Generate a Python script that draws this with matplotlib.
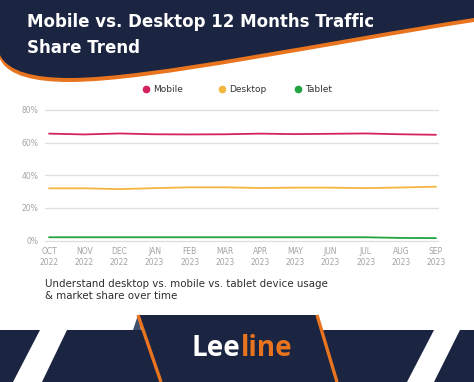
import matplotlib
matplotlib.use("Agg")
import matplotlib.pyplot as plt
from matplotlib.path import Path
from matplotlib.patches import PathPatch, Polygon

# data
months = ["OCT\n2022", "NOV\n2022", "DEC\n2022", "JAN\n2023", "FEB\n2023", "MAR\n2023",
          "APR\n2023", "MAY\n2023", "JUN\n2023", "JUL\n2023", "AUG\n2023", "SEP\n2023"]
mobile = [65.5, 65.0, 65.6, 65.1, 65.0, 65.1, 65.5, 65.2, 65.4, 65.6, 65.1, 64.8]
desktop = [32.0, 32.0, 31.5, 32.1, 32.6, 32.6, 32.2, 32.4, 32.4, 32.1, 32.5, 33.0]
tablet = [2.0, 2.0, 2.0, 2.0, 2.0, 2.0, 2.0, 2.0, 2.0, 2.0, 1.6, 1.5]
series_names = ["Mobile", "Desktop", "Tablet"]
series_colors = ["#d4225f", "#f3b63f", "#22a33f"]
yticks = [0, 20, 40, 60, 80]

title_lines = ["Mobile vs. Desktop 12 Months Traffic", "Share Trend"]
subtitle = "Understand desktop vs. mobile vs. tablet device usage\n& market share over time"

NAVY = "#1b2440"
ORANGE = "#e8741f"
W, H = 474, 382

fig = plt.figure(figsize=(W / 100, H / 100), dpi=100)
fig.patch.set_facecolor("white")

# background decoration axes in pixel coordinates (y grows downward)
bg = fig.add_axes([0, 0, 1, 1], zorder=0)
bg.set_xlim(0, W)
bg.set_ylim(H, 0)
bg.axis("off")


def header_path(dy):
    verts = [(0, 0), (0, 55 + dy),
             (8, 72 + dy), (35, 78 + dy), (70, 78 + dy),
             (150, 78 + dy), (330, 40 + dy), (W, 18 + dy),
             (W, 0), (0, 0)]
    codes = [Path.MOVETO, Path.LINETO,
             Path.CURVE4, Path.CURVE4, Path.CURVE4,
             Path.CURVE4, Path.CURVE4, Path.CURVE4,
             Path.LINETO, Path.CLOSEPOLY]
    return Path(verts, codes)


bg.add_patch(PathPatch(header_path(4), facecolor=ORANGE, edgecolor="none"))
bg.add_patch(PathPatch(header_path(0), facecolor=NAVY, edgecolor="none"))

for i, line in enumerate(title_lines):
    bg.text(27, 22 + i * 26, line, color="white", fontsize=12, fontweight="bold",
            family="DejaVu Sans", va="center", ha="left")

# footer band
footer_polys = [
    [(0, 330), (40, 330), (13, H), (0, H)],
    [(67, 330), (434, 330), (407, H), (42, H)],
    [(460, 330), (W, 330), (W, H), (434, H)],
    [(138, 315), (317, 315), (337, H), (161, H)],
]
for pts in footer_polys:
    bg.add_patch(Polygon(pts, closed=True, facecolor=NAVY, edgecolor="none"))
bg.add_patch(Polygon([(133, 330), (138, 315), (141, 330)], closed=True,
                     facecolor="#42506f", edgecolor="none"))
bg.plot([138, 161], [315, H], color=ORANGE, lw=2.4, solid_capstyle="butt")
bg.plot([317, 337], [315, H], color=ORANGE, lw=2.4, solid_capstyle="butt")

t1 = bg.text(192, 348, "Lee", color="white", fontsize=20, fontweight="bold",
             family="Open Sans", va="center", ha="left")
fig.canvas.draw()
bb = t1.get_window_extent()
x_end = bb.x1 / fig.dpi * 100
bg.text(x_end, 348, "line", color=ORANGE, fontsize=20, fontweight="bold",
        family="Open Sans", va="center", ha="left")

bg.text(45, 290, subtitle, color="#2e2e2e", fontsize=7.4, family="DejaVu Sans",
        va="center", ha="left", linespacing=1.2)

# legend: marker + label for each series
legend_x = [146, 222, 298]
for lx, name, col in zip(legend_x, series_names, series_colors):
    bg.plot(lx, 89, marker="o", color=col, markersize=4.5, linestyle="none")
    bg.text(lx + 7, 89, name, color="#333333", fontsize=6.5, va="center", ha="left")

# chart axes
ax = fig.add_axes([45 / W, 1 - 243.8 / H, 394 / W, (243.8 - 106.7) / H], zorder=1)
ax.patch.set_alpha(0)
x = list(range(len(months)))
for vals, name, col in zip([mobile, desktop, tablet], series_names, series_colors):
    ax.plot(x, vals, color=col, lw=1.3, label=name, solid_capstyle="round")

ax.set_xlim(-0.114, 11.085)
ax.set_ylim(-2, 82)
ax.set_yticks(yticks)
ax.set_yticklabels([f"{v}%" for v in yticks])
ax.set_xticks(x)
ax.set_xticklabels(months, linespacing=1.2)
ax.tick_params(axis="both", length=0, labelsize=5.5, labelcolor="#a3a3a3")
ax.tick_params(axis="y", pad=5)
ax.tick_params(axis="x", pad=2.5)
for s in ax.spines.values():
    s.set_visible(False)
ax.grid(axis="y", color="#dedede", lw=0.9)
ax.set_axisbelow(True)

fig.savefig("out.png", dpi=100)
